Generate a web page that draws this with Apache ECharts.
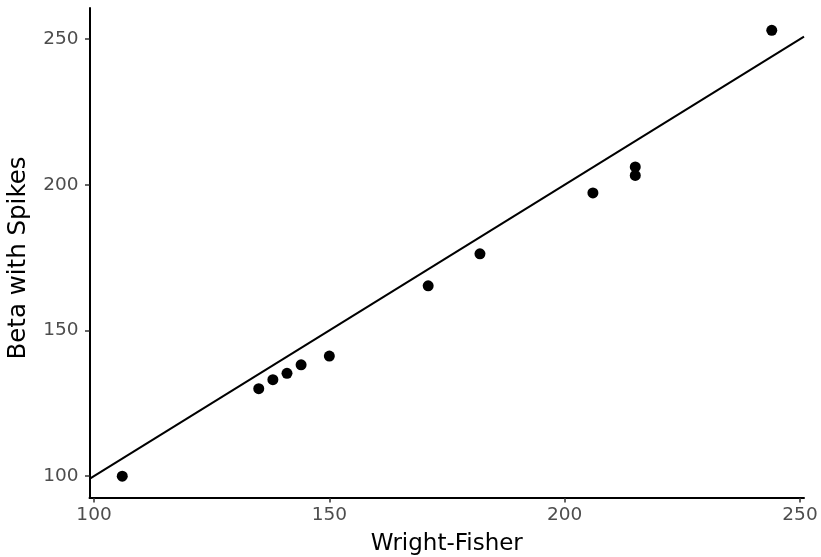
<!DOCTYPE html>
<html><head><meta charset="utf-8">
<script src="https://cdn.jsdelivr.net/npm/echarts@6/dist/echarts.min.js"></script>
<style>html,body{margin:0;padding:0;background:#fff}#c{width:821px;height:557px}</style>
</head><body><div id="c"></div>
<script>
const wrightFisher = [106, 135, 138, 141, 144, 150, 171, 182, 206, 215, 215, 244];
const betaSpikes   = [100, 130, 133.1, 135.3, 138.2, 141.2, 165.3, 176.3, 197.2, 203.2, 206.1, 253];
const xTicks = [100, 150, 200, 250];
const yTicks = [100, 150, 200, 250];
const xRange = [99.04, 250.85];
const yRange = [92.5, 260.65];
const identityLine = [[xRange[0], xRange[0]], [xRange[1], xRange[1]]];

const chart = echarts.init(document.getElementById('c'), null, {renderer: 'canvas'});
const font = 'DejaVu Sans';
chart.setOption({
  animation: false,
  grid: {left: 89.5, right: 17, top: 8, bottom: 59, containLabel: false, outerBoundsMode: 'none'},
  xAxis: {
    type: 'value', min: xRange[0], max: xRange[1],
    name: 'Wright-Fisher', nameLocation: 'middle', nameGap: 35,
    nameTextStyle: {fontFamily: font, fontSize: 23, color: '#000'},
    axisLine: {show: true, onZero: false, lineStyle: {color: '#000', width: 2}},
    axisTick: {show: true, length: 4.5, customValues: xTicks, lineStyle: {color: '#333', width: 1.5}},
    axisLabel: {customValues: xTicks, fontFamily: font, fontSize: 18.5, color: '#4d4d4d', margin: 8},
    splitLine: {show: false}
  },
  yAxis: {
    type: 'value', min: yRange[0], max: yRange[1],
    name: 'Beta with Spikes', nameLocation: 'middle', nameGap: 58, nameRotate: 90,
    nameTextStyle: {fontFamily: font, fontSize: 24.5, color: '#000', padding: [0, 10, 0, 0]},
    axisLine: {show: true, onZero: false, lineStyle: {color: '#000', width: 2}},
    axisTick: {show: true, length: 4.5, customValues: yTicks, lineStyle: {color: '#333', width: 1.5}},
    axisLabel: {customValues: yTicks, fontFamily: font, fontSize: 18.5, color: '#4d4d4d', margin: 11},
    splitLine: {show: false}
  },
  series: [
    {type: 'line', data: identityLine, symbol: 'none', lineStyle: {color: '#000', width: 2}, silent: true},
    {type: 'scatter', data: wrightFisher.map((x, i) => [x, betaSpikes[i]]), symbolSize: 11,
     itemStyle: {color: '#000', opacity: 1}}
  ]
});
</script></body></html>
